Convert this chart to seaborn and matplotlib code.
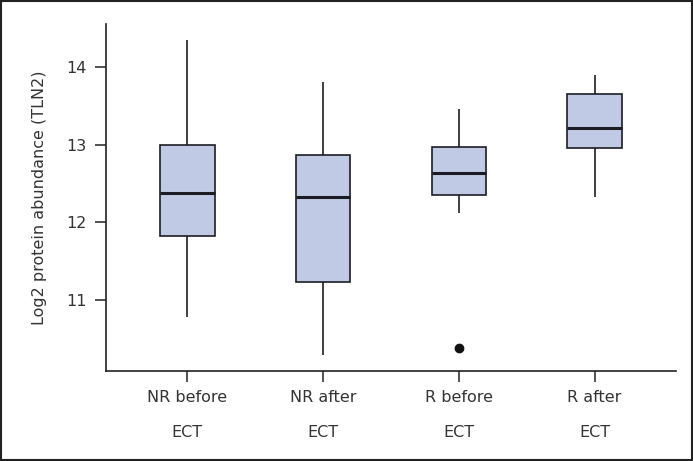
import pandas as pd
import matplotlib
matplotlib.use("Agg")
import matplotlib.pyplot as plt
import seaborn as sns

groups = ["NR before\nECT", "NR after\nECT", "R before\nECT", "R after\nECT"]
nr_before = [10.79, 11.82, 12.38, 13.00, 14.34]
nr_after = [10.29, 11.23, 12.32, 12.87, 13.81]
r_before = [10.39, 12.12, 12.35, 12.50, 12.64, 12.80, 12.97, 13.20, 13.46]
r_after = [12.32, 12.95, 13.21, 13.65, 13.90]
y_ticks = [11, 12, 13, 14]

rows = []
for name, vals in zip(groups, [nr_before, nr_after, r_before, r_after]):
    for v in vals:
        rows.append({"group": name, "value": v})
df = pd.DataFrame(rows)

sns.set_style("white")
plt.rcParams["font.family"] = ["DejaVu Sans"]

fig = plt.figure(figsize=(6.93, 4.61), dpi=100)
ax = fig.add_axes([106 / 693, 1 - 371 / 461, 570 / 693, 347 / 461])

edge = "#1c1c24"
sns.boxplot(
    data=df, x="group", y="value", order=groups, ax=ax,
    color="#c0cae5", saturation=1, width=0.4,
    linecolor=edge, linewidth=1.2,
    whiskerprops=dict(color=edge, linewidth=1.2),
    capprops=dict(linewidth=0),
    medianprops=dict(color=edge, linewidth=2.2),
    flierprops=dict(marker="o", markersize=6, markerfacecolor="#111111",
                    markeredgecolor="#111111"),
)

ax.set_xlim(-0.6, 3.6)
ax.set_ylim(10.09, 14.55)
ax.set_yticks(y_ticks)
ax.set_yticklabels([str(t) for t in y_ticks], fontsize=11.5, color="#333333")
ax.set_xticks(range(len(groups)))
ax.set_xticklabels(groups, fontsize=11.5, color="#333333", linespacing=2.65)
ax.set_xlabel("")
ax.set_ylabel("Log2 protein abundance (TLN2)", fontsize=11.5, color="#333333",
              labelpad=14)

for side in ["top", "right"]:
    ax.spines[side].set_visible(False)
for side in ["left", "bottom"]:
    ax.spines[side].set_color("#222222")
    ax.spines[side].set_linewidth(1.2)
ax.tick_params(axis="both", direction="out", length=8, width=1.1,
               color="#222222", bottom=True, left=True)
ax.tick_params(axis="y", pad=6)
ax.tick_params(axis="x", pad=6)

# frame around the whole figure
fig.patches.append(plt.Rectangle((0.002, 0.003), 0.996, 0.994,
                                 transform=fig.transFigure, fill=False,
                                 edgecolor="#222222", linewidth=1.5))

fig.savefig("out.png", dpi=100)
